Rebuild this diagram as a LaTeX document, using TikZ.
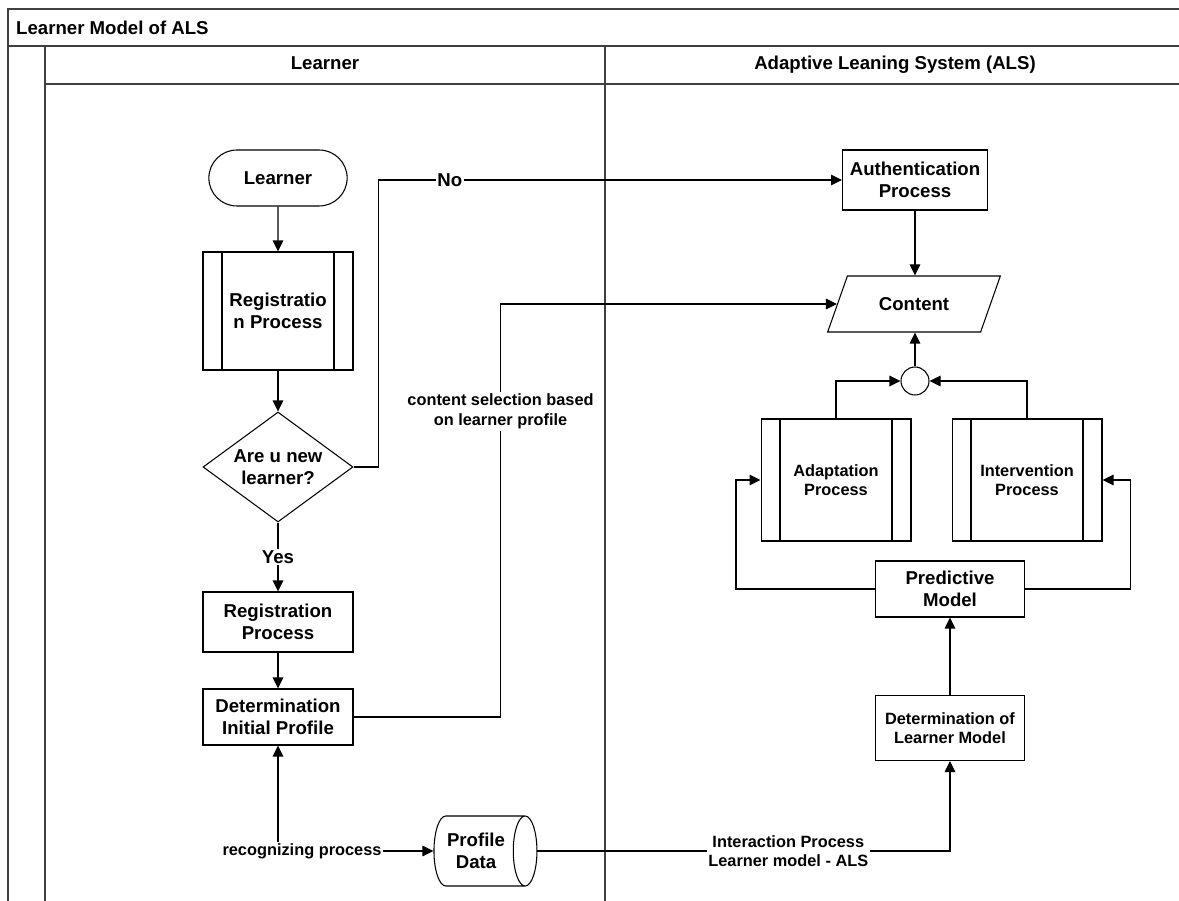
\documentclass[tikz,border=0pt]{standalone}
\usepackage{fontspec}
\setmainfont{Liberation Sans}
\usetikzlibrary{positioning, shapes.geometric, shapes.misc, arrows.meta, calc}

\begin{document}
\begin{tikzpicture}[x=0.02cm, y=-0.02cm,
    font=\fontsize{10.6}{12.5}\selectfont\bfseries,
    smalltxt/.style={font=\fontsize{9.3}{11.2}\selectfont\bfseries},
    lane/.style={draw=black!75, line width=1pt},
    box/.style={draw, line width=0.6pt, align=center, fill=white},
    proc/.style={box, rectangle, minimum width=3cm},
    subproc/.style={box, rectangle, minimum width=3cm,
      path picture={\draw[line width=0.6pt] ([xshift=0.38cm]path picture bounding box.north west) -- ([xshift=0.38cm]path picture bounding box.south west);
        \draw[line width=0.6pt] ([xshift=-0.38cm]path picture bounding box.north east) -- ([xshift=-0.38cm]path picture bounding box.south east);}},
    flow/.style={draw, line width=0.6pt, -{Triangle[length=0.22cm,width=0.21cm]}},
    lbl/.style={fill=white, inner sep=1pt, align=center}]
    \useasboundingbox (0,0) rectangle (1179,901);
    \draw[lane] (1179,9) -- (8,9) -- (8,901);
    \draw[lane] (8,46) -- (1179,46);
    \draw[lane] (45,46) -- (45,901);
    \draw[lane] (45,84) -- (1179,84);
    \draw[lane] (605,46) -- (605,901);
    \node[anchor=west] (title) at (10,28) {Learner Model of ALS};
    \node[anchor=base] (lanel) at (325,70) {Learner};
    \node[anchor=base] (laner) at (895,70) {Adaptive Leaning System (ALS)};

    \node[box, rounded rectangle, minimum width=3cm, minimum height=1.12cm] (start) at (278,178) {Learner};
    \node[subproc, minimum height=2.36cm] (regproc) at (278,311) {Registratio\\n Process};
    \node[box, diamond, minimum width=3cm, minimum height=2.2cm, shape aspect=1.36, inner sep=0pt] (newq) at (278,467) {Are u new\\learner?};
    \node[proc, minimum height=1.2cm] (reg) at (278,622) {Registration\\Process};
    \node[proc, minimum height=1.12cm] (detinit) at (278,717) {Determination\\Initial Profile};
    \node[box, cylinder, shape aspect=0.5, minimum width=1.4cm, minimum height=2.06cm] (profile) at (476,851) {Profile\\Data};
    \coordinate (recog) at (278,851);

    \node[proc, minimum width=2.9cm, minimum height=1.2cm] (auth) at (915,180) {Authentication\\Process};
    \node[box, trapezium, trapezium left angle=64, trapezium right angle=116, trapezium stretches=true, minimum width=3.46cm, minimum height=1.12cm] (content) at (914,304) {Content};
    \node[box, circle, minimum size=0.56cm, inner sep=0pt] (join) at (915,381) {};
    \node[subproc, smalltxt, minimum height=2.44cm] (adapt) at (836,480) {Adaptation\\Process};
    \node[subproc, smalltxt, minimum height=2.44cm] (interv) at (1027,480) {Intervention\\Process};
    \node[proc, minimum width=2.98cm, minimum height=1.12cm] (pred) at (950,589) {Predictive\\Model};
    \node[proc, smalltxt, minimum width=2.98cm, minimum height=1.3cm] (detlm) at (950,728) {Determination of\\Learner Model};

    \draw[flow] (start) -- (regproc);
    \draw[flow] (regproc) -- (newq);
    \draw[flow] (newq) -- node[lbl]{Yes} (reg);
    \draw[flow] (reg) -- (detinit);
    \draw[flow] (newq.east) -- ++(25,0) |- node[lbl, pos=0.577]{No} (auth.west);
    \draw[flow] (detinit.east) -- ++(147,0) |- node[lbl, smalltxt, pos=0.37]{content selection based\\on learner profile} (content.west);
    \draw[flow] (recog) -- (detinit);
    \draw[flow] (recog) -- (profile.west);
    \node[lbl, smalltxt] (recoglbl) at (302,851) {recognizing process};
    \draw[flow] (profile.east) -| node[lbl, smalltxt, pos=0.304]{Interaction Process\\Learner model - ALS} (detlm.south);

    \draw[flow] (auth) -- (auth |- content.north);
    \draw[flow] (join) -- (join |- content.south);
    \draw[flow] (adapt.north) |- (join.west);
    \draw[flow] (interv.north) |- (join.east);
    \draw[flow] (pred.west) -- ++(-139,0) |- (adapt.west);
    \draw[flow] (pred.east) -- ++(105,0) |- (interv.east);
    \draw[flow] (detlm) -- (pred);
  \end{tikzpicture}
\end{document}
